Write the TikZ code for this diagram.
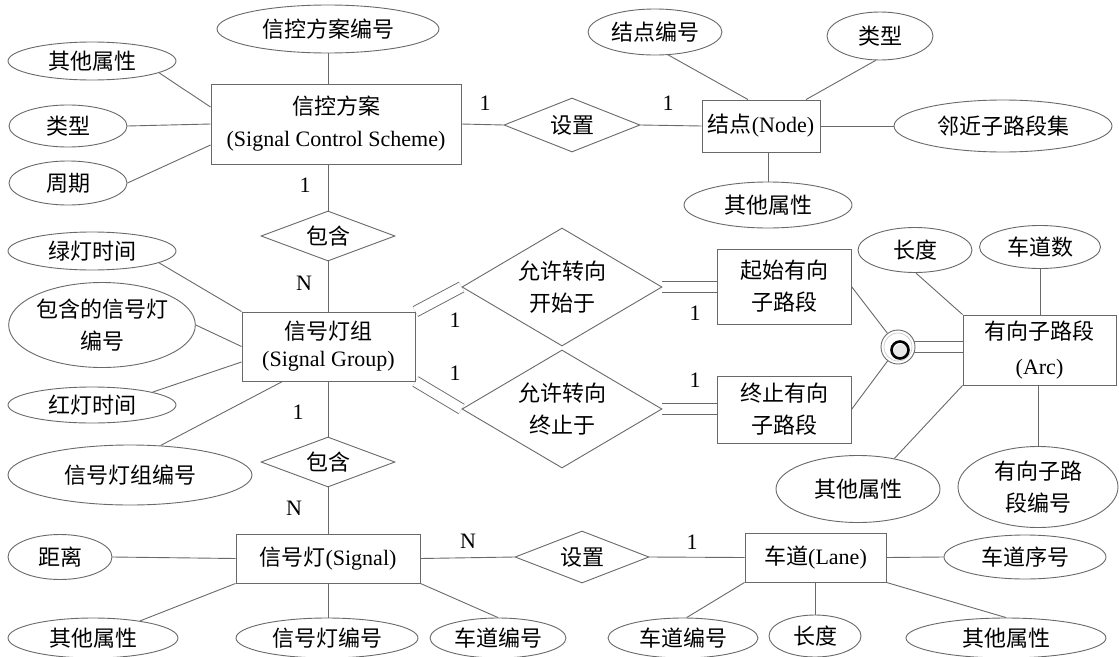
\documentclass[tikz,border=0pt]{standalone}
\usepackage{fontspec}
\setmainfont{Liberation Serif}
\newfontfamily\cjkf{Noto Sans CJK SC}
\usetikzlibrary{shapes.geometric,backgrounds,calc}
\newcommand{\zh}[1]{{\cjkf #1}}
\newcommand{\fsz}{\fontsize{22}{32}\selectfont}
\definecolor{lc}{RGB}{105,105,105}
\begin{document}
\begin{tikzpicture}[x=1pt,y=-1pt,
  ent/.style={draw=lc, line width=0.9pt, fill=white, rectangle, inner sep=0pt, align=center, font=\fsz},
  att/.style={draw=lc, line width=0.9pt, fill=white, ellipse, inner sep=0pt, align=center, font=\fsz},
  rel/.style={draw=lc, line width=0.9pt, fill=white, diamond, inner sep=0pt, align=center, font=\fsz, shape aspect=2.5},
  card/.style={inner sep=0pt, font=\fsz},
  ln/.style={draw=lc, line width=0.9pt},
  dbl/.style={draw=lc, line width=0.9pt, double=white, double distance=10pt},
]
\useasboundingbox (0,0) rectangle (1119,656);

% --- top: signal control scheme
\node[ent, minimum width=250pt, minimum height=80pt] (sch) at (336,124) {\zh{信控方案}\\(Signal Control Scheme)};
\node[att, minimum width=222pt, minimum height=48pt] (schid) at (328,29) {\zh{信控方案编号}};
\node[att, minimum width=168pt, minimum height=38pt] (schoth) at (92,61) {\zh{其他属性}};
\node[att, minimum width=118pt, minimum height=42pt] (schtype) at (68,126) {\zh{类型}};
\node[att, minimum width=118pt, minimum height=44pt] (schcyc) at (68,183) {\zh{周期}};

% --- node
\node[rel, minimum width=136pt, minimum height=54pt] (set1) at (572,125) {\zh{设置}};
\node[ent, minimum width=118pt, minimum height=52pt] (nd) at (761,126) {\zh{结点}(Node)};
\node[att, minimum width=134pt, minimum height=46pt] (ndid) at (655,32) {\zh{结点编号}};
\node[att, minimum width=106pt, minimum height=48pt] (ndtype) at (880,36) {\zh{类型}};
\node[att, minimum width=218pt, minimum height=52pt] (ndadj) at (1003,126) {\zh{邻近子路段集}};
\node[att, minimum width=168pt, minimum height=46pt] (ndoth) at (768,205) {\zh{其他属性}};

% --- signal group
\node[rel, minimum width=134pt, minimum height=50pt] (inc1) at (328,236) {\zh{包含}};
\node[ent, minimum width=173pt, minimum height=69pt] (sg) at (328.5,346.5) {\zh{信号灯组}\\[-5pt](Signal Group)};
\node[att, minimum width=168pt, minimum height=38pt] (sggreen) at (92,251) {\zh{绿灯时间}};
\node[att, minimum width=186pt, minimum height=85pt] (sgincl) at (102,325) {\zh{包含的信号灯}\\\zh{编号}};
\node[att, minimum width=168pt, minimum height=36pt] (sgred) at (92,405) {\zh{红灯时间}};
\node[att, minimum width=244pt, minimum height=60pt] (sgid) at (130,475) {\zh{信号灯组编号}};

% --- turning relations and arcs
\node[rel, minimum width=200pt, minimum height=118pt, shape aspect=1.7] (rs) at (562,287) {\zh{允许转向}\\\zh{开始于}};
\node[rel, minimum width=200pt, minimum height=118pt, shape aspect=1.7] (re) at (562,409) {\zh{允许转向}\\\zh{终止于}};
\node[ent, minimum width=134pt, minimum height=75pt] (st) at (784,286.5) {\zh{起始有向}\\\zh{子路段}};
\node[ent, minimum width=134pt, minimum height=67pt] (en) at (784,409.5) {\zh{终止有向}\\\zh{子路段}};
\node[circle, draw=lc, line width=0.9pt, fill=white, minimum size=34pt, inner sep=0pt] (circ) at (898,347) {};
\draw[gray!45, line width=0.6pt] (circ.center) circle (14);
\fill[gray!18] (901,352) circle (8);
\draw[line width=2.6pt] (900,350) circle (8.5);
\node[ent, minimum width=153pt, minimum height=70pt] (arc) at (1039.5,350) {\zh{有向子路段}\\[3pt](Arc)};
\node[att, minimum width=114pt, minimum height=45pt] (arclen) at (915,250) {\zh{长度}};
\node[att, minimum width=121pt, minimum height=43pt] (arclanes) at (1040,247) {\zh{车道数}};
\node[att, minimum width=164pt, minimum height=67pt] (arcoth) at (858,489) {\zh{其他属性}};
\node[att, minimum width=160pt, minimum height=81pt] (arcid) at (1038,487) {\zh{有向子路}\\\zh{段编号}};

% --- bottom
\node[rel, minimum width=134pt, minimum height=50pt] (inc2) at (328,462) {\zh{包含}};
\node[ent, minimum width=184pt, minimum height=49pt] (sig) at (328,558.5) {\zh{信号灯}(Signal)};
\node[att, minimum width=104pt, minimum height=45pt] (sigdist) at (60,557) {\zh{距离}};
\node[att, minimum width=170pt, minimum height=40pt] (sigoth) at (93,638) {\zh{其他属性}};
\node[att, minimum width=182pt, minimum height=40pt] (signum) at (327,638) {\zh{信号灯编号}};
\node[att, minimum width=136pt, minimum height=40pt] (siglane) at (498,638) {\zh{车道编号}};
\node[rel, minimum width=134pt, minimum height=52pt] (set2) at (582,557) {\zh{设置}};
\node[ent, minimum width=141pt, minimum height=49pt] (lane) at (815.5,557.5) {\zh{车道}(Lane)};
\node[att, minimum width=162pt, minimum height=44pt] (lnseq) at (1025,557) {\zh{车道序号}};
\node[att, minimum width=150pt, minimum height=40pt] (lnnum) at (683,638) {\zh{车道编号}};
\node[att, minimum width=92pt, minimum height=42pt] (lnlen) at (815,636) {\zh{长度}};
\node[att, minimum width=200pt, minimum height=40pt] (lnoth) at (1006,638) {\zh{其他属性}};

% --- cardinalities
\node[card] (k1) at (305,185) {1};
\node[card] (k2) at (304,283) {N};
\node[card] (k3) at (485,103) {1};
\node[card] (k4) at (668,103) {1};
\node[card] (k5) at (455,320) {1};
\node[card] (k6) at (455,373) {1};
\node[card] (k7) at (695,313) {1};
\node[card] (k8) at (695,380) {1};
\node[card] (k9) at (298,412) {1};
\node[card] (k10) at (294,508) {N};
\node[card] (k11) at (468,541) {N};
\node[card] (k12) at (692,542) {1};

% --- connectors
\begin{scope}[on background layer]
\fill[white] (0,0) rectangle (1119,656);
\draw[ln] (schid.south) -- (schid.south |- sch.north);
\draw[ln] (schoth.-10) -- ([yshift=17pt]sch.west);
\draw[ln] (schtype.east) -- (sch.west);
\draw[ln] (schcyc.east) -- ([yshift=-21pt]sch.west);
\draw[ln] (sch.east) -- (set1.west);
\draw[ln] (set1.east) -- (nd.west);
\draw[ln] (ndid.-60) -- ([xshift=-13pt]nd.north);
\draw[ln] (ndtype.-100) -- ([xshift=45pt]nd.north);
\draw[ln] (nd.east) -- (ndadj.west);
\draw[ln] (ndoth.north |- nd.south) -- (ndoth.north);
\draw[ln] (inc1.north |- sch.south) -- (inc1.north);
\draw[ln] (inc1.south) -- (inc1.south |- sg.north);
\draw[ln] (sggreen.-10) -- (sg.north west);
\draw[ln] (sgincl.east) -- (sg.west);
\draw[ln] (sgred.12) -- ([yshift=-15.5pt]sg.west);
\draw[ln] (sgid.44) -- ([xshift=-46pt]sg.south);
\draw[dbl] (sg.north east) -- (rs.west);
\draw[dbl] (sg.south east) -- (re.west);
\draw[dbl] (rs.east) -- (rs.east -| st.west);
\draw[dbl] (re.east) -- (re.east -| en.west);
\draw[ln] (st.east) -- (circ);
\draw[ln] (circ) -- (en.east);
\draw[dbl] (circ.center) -- (circ.center -| arc.west);
\draw[ln] (arclen.-88) -- (arc.north west);
\draw[ln] (arclanes.south) -- (arclanes.south |- arc.north);
\draw[ln] (arcoth.40) -- (arc.south west);
\draw[ln] (arcid.north |- arc.south) -- (arcid.north);
\draw[ln] (inc2.north |- sg.south) -- (inc2.north);
\draw[ln] (inc2.south) -- (inc2.south |- sig.north);
\draw[ln] (sigdist.east) -- (sig.west);
\draw[ln] (sigoth.20) -- (sig.south west);
\draw[ln] (sig.south) -- (sig.south |- signum.north);
\draw[ln] (sig.south east) -- (siglane.north);
\draw[ln] (sig.east) -- (set2.west);
\draw[ln] (set2.east) -- (lane.west);
\draw[ln] (lane.east) -- (lnseq.west);
\draw[ln] (lane.south west) -- (lnnum.80);
\draw[ln] (lnlen.north |- lane.south) -- (lnlen.north);
\draw[ln] (lane.south east) -- (lnoth.north);
\end{scope}
\end{tikzpicture}
\end{document}
